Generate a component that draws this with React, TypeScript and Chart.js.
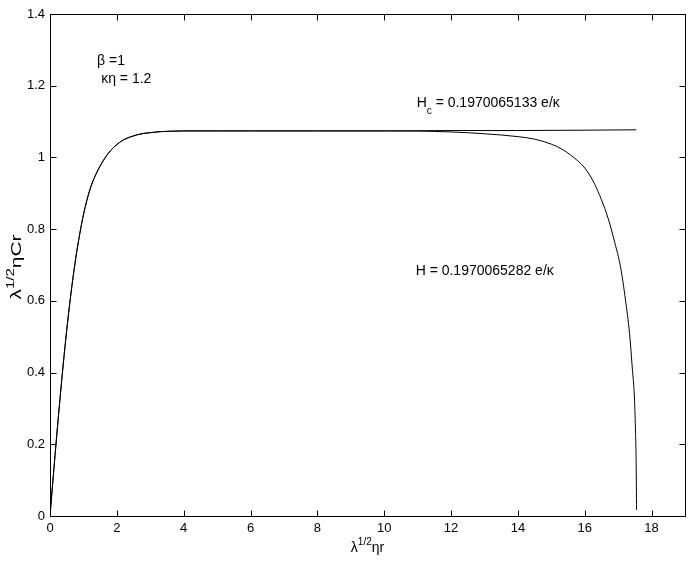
import React, { useEffect, useRef } from 'react';
import { Chart, registerables } from 'chart.js';

Chart.register(...registerables);

const FONT = "'Liberation Sans', Arial, Helvetica, sans-serif";

const xTickLabels = ['0', '2', '4', '6', '8', '10', '12', '14', '16', '18'];
const yTickLabels = ['0', '0.2', '0.4', '0.6', '0.8', '1', '1.2', '1.4'];

// H_c curve (stays on the plateau)
const hcX = [0, 0.1, 0.2, 0.3, 0.4, 0.5, 0.6, 0.7, 0.8, 0.9, 1.0, 1.2, 1.4, 1.6, 1.8, 2.0, 2.2, 2.4, 2.6, 2.8, 3.0, 3.3, 3.6, 4.0, 5, 6, 8, 10, 12, 14, 16, 17.54];
const hcY = [0, 0.113, 0.223, 0.328, 0.427, 0.518, 0.6, 0.673, 0.737, 0.792, 0.84, 0.912, 0.958, 0.992, 1.018, 1.036, 1.049, 1.057, 1.063, 1.067, 1.069, 1.072, 1.073, 1.074, 1.074, 1.074, 1.074, 1.074, 1.075, 1.075, 1.076, 1.077];

// H curve (falls to zero)
const hX = [0, 0.1, 0.2, 0.3, 0.4, 0.5, 0.6, 0.7, 0.8, 0.9, 1.0, 1.2, 1.4, 1.6, 1.8, 2.0, 2.2, 2.4, 2.6, 2.8, 3.0, 3.3, 3.6, 4.0, 5, 6, 8, 10, 11, 12, 13, 14, 14.5, 15, 15.3, 15.6, 15.9, 16.1, 16.3, 16.5, 16.7, 16.9, 17.07, 17.22, 17.34, 17.42, 17.49, 17.52, 17.54, 17.55];
const hY = [0, 0.113, 0.223, 0.328, 0.427, 0.518, 0.6, 0.673, 0.737, 0.792, 0.84, 0.912, 0.958, 0.992, 1.018, 1.036, 1.049, 1.057, 1.063, 1.067, 1.069, 1.072, 1.073, 1.074, 1.074, 1.074, 1.074, 1.074, 1.0735, 1.071, 1.066, 1.058, 1.051, 1.037, 1.024, 1.005, 0.981, 0.958, 0.925, 0.882, 0.83, 0.762, 0.695, 0.602, 0.509, 0.416, 0.323, 0.231, 0.137, 0.017];

const hcLabel = { main: 'H', sub: 'c', rest: ' = 0.1970065133 e/κ' };
const hLabel = 'H = 0.1970065282 e/κ';
const betaLabel = 'β =1';
const kappaLabel = 'κη = 1.2';

const framePlugin = {
  id: 'frameAndText',
  afterDraw(chart: any) {
    const { ctx, chartArea: a, scales } = chart;
    const xs = scales.x;
    const ys = scales.y;
    ctx.save();
    ctx.strokeStyle = '#000';
    ctx.lineWidth = 1;
    ctx.strokeRect(a.left + 0.5, a.top + 0.5, a.right - a.left, a.bottom - a.top);
    const TL = 6;
    ctx.beginPath();
    xs.ticks.forEach((t: any) => {
      const px = Math.round(xs.getPixelForValue(t.value)) + 0.5;
      ctx.moveTo(px, a.bottom + 0.5);
      ctx.lineTo(px, a.bottom + 0.5 - TL);
      ctx.moveTo(px, a.top + 0.5);
      ctx.lineTo(px, a.top + 0.5 + TL);
    });
    ys.ticks.forEach((t: any) => {
      const py = Math.round(ys.getPixelForValue(t.value)) + 0.5;
      ctx.moveTo(a.left + 0.5, py);
      ctx.lineTo(a.left + 0.5 + TL, py);
      ctx.moveTo(a.right + 0.5, py);
      ctx.lineTo(a.right + 0.5 - TL, py);
    });
    ctx.stroke();

    ctx.fillStyle = '#000';
    ctx.textBaseline = 'alphabetic';
    ctx.textAlign = 'left';
    const big = `14px ${FONT}`;
    const small = `10px ${FONT}`;

    // annotations, anchored in data coordinates
    ctx.font = big;
    ctx.fillText(betaLabel, xs.getPixelForValue(1.41), ys.getPixelForValue(1.258));
    ctx.fillText(kappaLabel, xs.getPixelForValue(1.53), ys.getPixelForValue(1.207));

    let hx = xs.getPixelForValue(10.97);
    const hyb = ys.getPixelForValue(1.141);
    ctx.font = big;
    ctx.fillText(hcLabel.main, hx, hyb);
    hx += ctx.measureText(hcLabel.main).width;
    ctx.font = small;
    ctx.fillText(hcLabel.sub, hx, hyb + 7);
    hx += ctx.measureText(hcLabel.sub).width;
    ctx.font = big;
    ctx.fillText(hcLabel.rest, hx, hyb);

    ctx.fillText(hLabel, xs.getPixelForValue(10.94), ys.getPixelForValue(0.672));

    // x-axis title: λ^{1/2}ηr
    const drawTitle = (parts: { t: string; sup?: boolean }[]) => {
      let w = 0;
      parts.forEach((p) => {
        ctx.font = p.sup ? small : big;
        w += ctx.measureText(p.t).width;
      });
      return w;
    };
    const drawParts = (parts: { t: string; sup?: boolean }[], x0: number, y0: number) => {
      let x = x0;
      parts.forEach((p) => {
        ctx.font = p.sup ? small : big;
        ctx.fillText(p.t, x, p.sup ? y0 - 7 : y0);
        x += ctx.measureText(p.t).width;
      });
    };
    const xTitle = [{ t: 'λ' }, { t: '1/2', sup: true }, { t: 'ηr' }];
    const cx = (a.left + a.right) / 2;
    const wx = drawTitle(xTitle);
    drawParts(xTitle, cx - wx / 2, 552);

    // y-axis title (rotated): λ^{1/2}ηCr
    const yTitle = [{ t: 'λ' }, { t: '1/2', sup: true }, { t: 'ηCr' }];
    const wy = drawTitle(yTitle);
    ctx.save();
    ctx.translate(21, 267);
    ctx.rotate(-Math.PI / 2);
    ctx.scale(1.5, 1);
    drawParts(yTitle, -wy / 2, 0);
    ctx.restore();

    ctx.restore();
  },
};

export default function App() {
  const ref = useRef<HTMLCanvasElement | null>(null);
  useEffect(() => {
    if (!ref.current) return;
    const chart = new Chart(ref.current, {
      type: 'scatter',
      data: {
        datasets: [
          {
            label: 'Hc',
            data: hcX.map((x, i) => ({ x, y: hcY[i] })),
            showLine: true,
            borderColor: '#000',
            borderWidth: 1,
            pointRadius: 0,
            cubicInterpolationMode: 'monotone',
          },
          {
            label: 'H',
            data: hX.map((x, i) => ({ x, y: hY[i] })),
            showLine: true,
            borderColor: '#000',
            borderWidth: 1,
            pointRadius: 0,
            cubicInterpolationMode: 'monotone',
          },
        ],
      },
      options: {
        animation: false,
        responsive: false,
        devicePixelRatio: 1,
        layout: { padding: { top: 14, right: 7, left: 0, bottom: 0 } },
        plugins: { legend: { display: false }, tooltip: { enabled: false } },
        scales: {
          x: {
            type: 'linear',
            min: 0,
            max: 19,
            afterFit: (s: any) => {
              s.height = 45;
            },
            grid: { display: false, drawTicks: false },
            border: { display: false },
            ticks: {
              stepSize: 2,
              includeBounds: false,
              padding: 5,
              color: '#000',
              font: { family: FONT, size: 13 },
              maxRotation: 0,
              autoSkip: false,
              callback: (_v: any, i: number) => xTickLabels[i],
            },
          },
          y: {
            type: 'linear',
            min: 0,
            max: 1.4,
            afterFit: (s: any) => {
              s.width = 50;
            },
            grid: { display: false, drawTicks: false },
            border: { display: false },
            ticks: {
              stepSize: 0.2,
              includeBounds: false,
              padding: 5,
              color: '#000',
              font: { family: FONT, size: 13 },
              autoSkip: false,
              callback: (_v: any, i: number) => yTickLabels[i],
            },
          },
        },
      },
      plugins: [framePlugin],
    } as any);
    return () => chart.destroy();
  }, []);
  return (
    <div style={{ position: 'fixed', left: 0, top: 0, width: 692, height: 561, background: '#fff' }}>
      <canvas ref={ref} width={692} height={561} style={{ display: 'block' }} />
    </div>
  );
}
